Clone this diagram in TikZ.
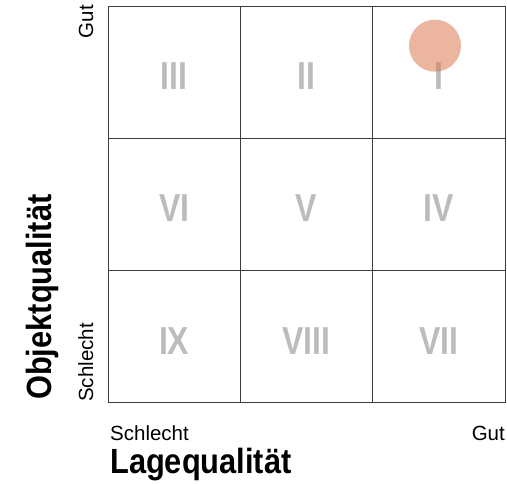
\documentclass[tikz,border=0pt]{standalone}
\usepackage{fontspec}
\setmainfont{Liberation Sans}
\newfontfamily\numfont{Liberation Sans}[FakeStretch=0.82]
\newfontfamily\titlefont{Liberation Sans}[FakeStretch=0.88]
\definecolor{numgray}{RGB}{188,188,188}
\definecolor{gridline}{RGB}{60,60,60}
\definecolor{dotfill}{RGB}{220,120,80}
\begin{document}
\begin{tikzpicture}[x=1pt,y=-1pt,
  cellbox/.style={draw=gridline,line width=0.9pt,minimum width=132.3pt,minimum height=132.3pt,inner sep=0pt},
  numeral/.style={text=numgray,font=\numfont\bfseries\fontsize{39}{39}\selectfont,inner sep=0pt,anchor=center},
  smalllabel/.style={font=\fontsize{20.5}{20.5}\selectfont,inner sep=0pt},
  axislabel/.style={font=\titlefont\bfseries\fontsize{35}{35}\selectfont,inner sep=0pt}]
\useasboundingbox (0,0) rectangle (507,484);
% grid cells
\node[cellbox] (c11) at (174.2,72.2) {};
\node[cellbox] (c12) at (306.5,72.2) {};
\node[cellbox] (c13) at (438.8,72.2) {};
\node[cellbox] (c21) at (174.2,204.5) {};
\node[cellbox] (c22) at (306.5,204.5) {};
\node[cellbox] (c23) at (438.8,204.5) {};
\node[cellbox] (c31) at (174.2,336.8) {};
\node[cellbox] (c32) at (306.5,336.8) {};
\node[cellbox] (c33) at (438.8,336.8) {};
% numerals
\node[numeral] (n3) at ([yshift=-4pt]c11.center) {III};
\node[numeral] (n2) at ([yshift=-4pt]c12.center) {II};
\node[numeral] (n1) at ([yshift=-4pt]c13.center) {I};
\node[numeral] (n6) at ([yshift=-4pt]c21.center) {VI};
\node[numeral] (n5) at ([yshift=-4pt]c22.center) {V};
\node[numeral] (n4) at ([yshift=-4pt]c23.center) {IV};
\node[numeral] (n9) at ([yshift=-4pt]c31.center) {IX};
\node[numeral] (n8) at ([yshift=-4pt]c32.center) {VIII};
\node[numeral] (n7) at ([yshift=-4pt]c33.center) {VII};
% marker
\fill[dotfill,fill opacity=0.55] (435,45.7) circle (26);
% axis tick labels
\node[smalllabel,rotate=90,anchor=base east] (gl) at (93,5) {Gut};
\node[smalllabel,rotate=90,anchor=base west] (sl) at (93,402) {Schlecht};
\node[smalllabel,text depth=0pt,anchor=base west] (sb) at (110,440) {Schlecht};
\node[smalllabel,text depth=0pt,anchor=base east] (gb) at (505,440) {Gut};
% axis titles
\node[axislabel,rotate=90,anchor=base west] (oq) at (52,400) {Objektqualität};
\node[axislabel,text height=25pt,anchor=base west] (lq) at (110,473) {Lagequalität};
\end{tikzpicture}
\end{document}
